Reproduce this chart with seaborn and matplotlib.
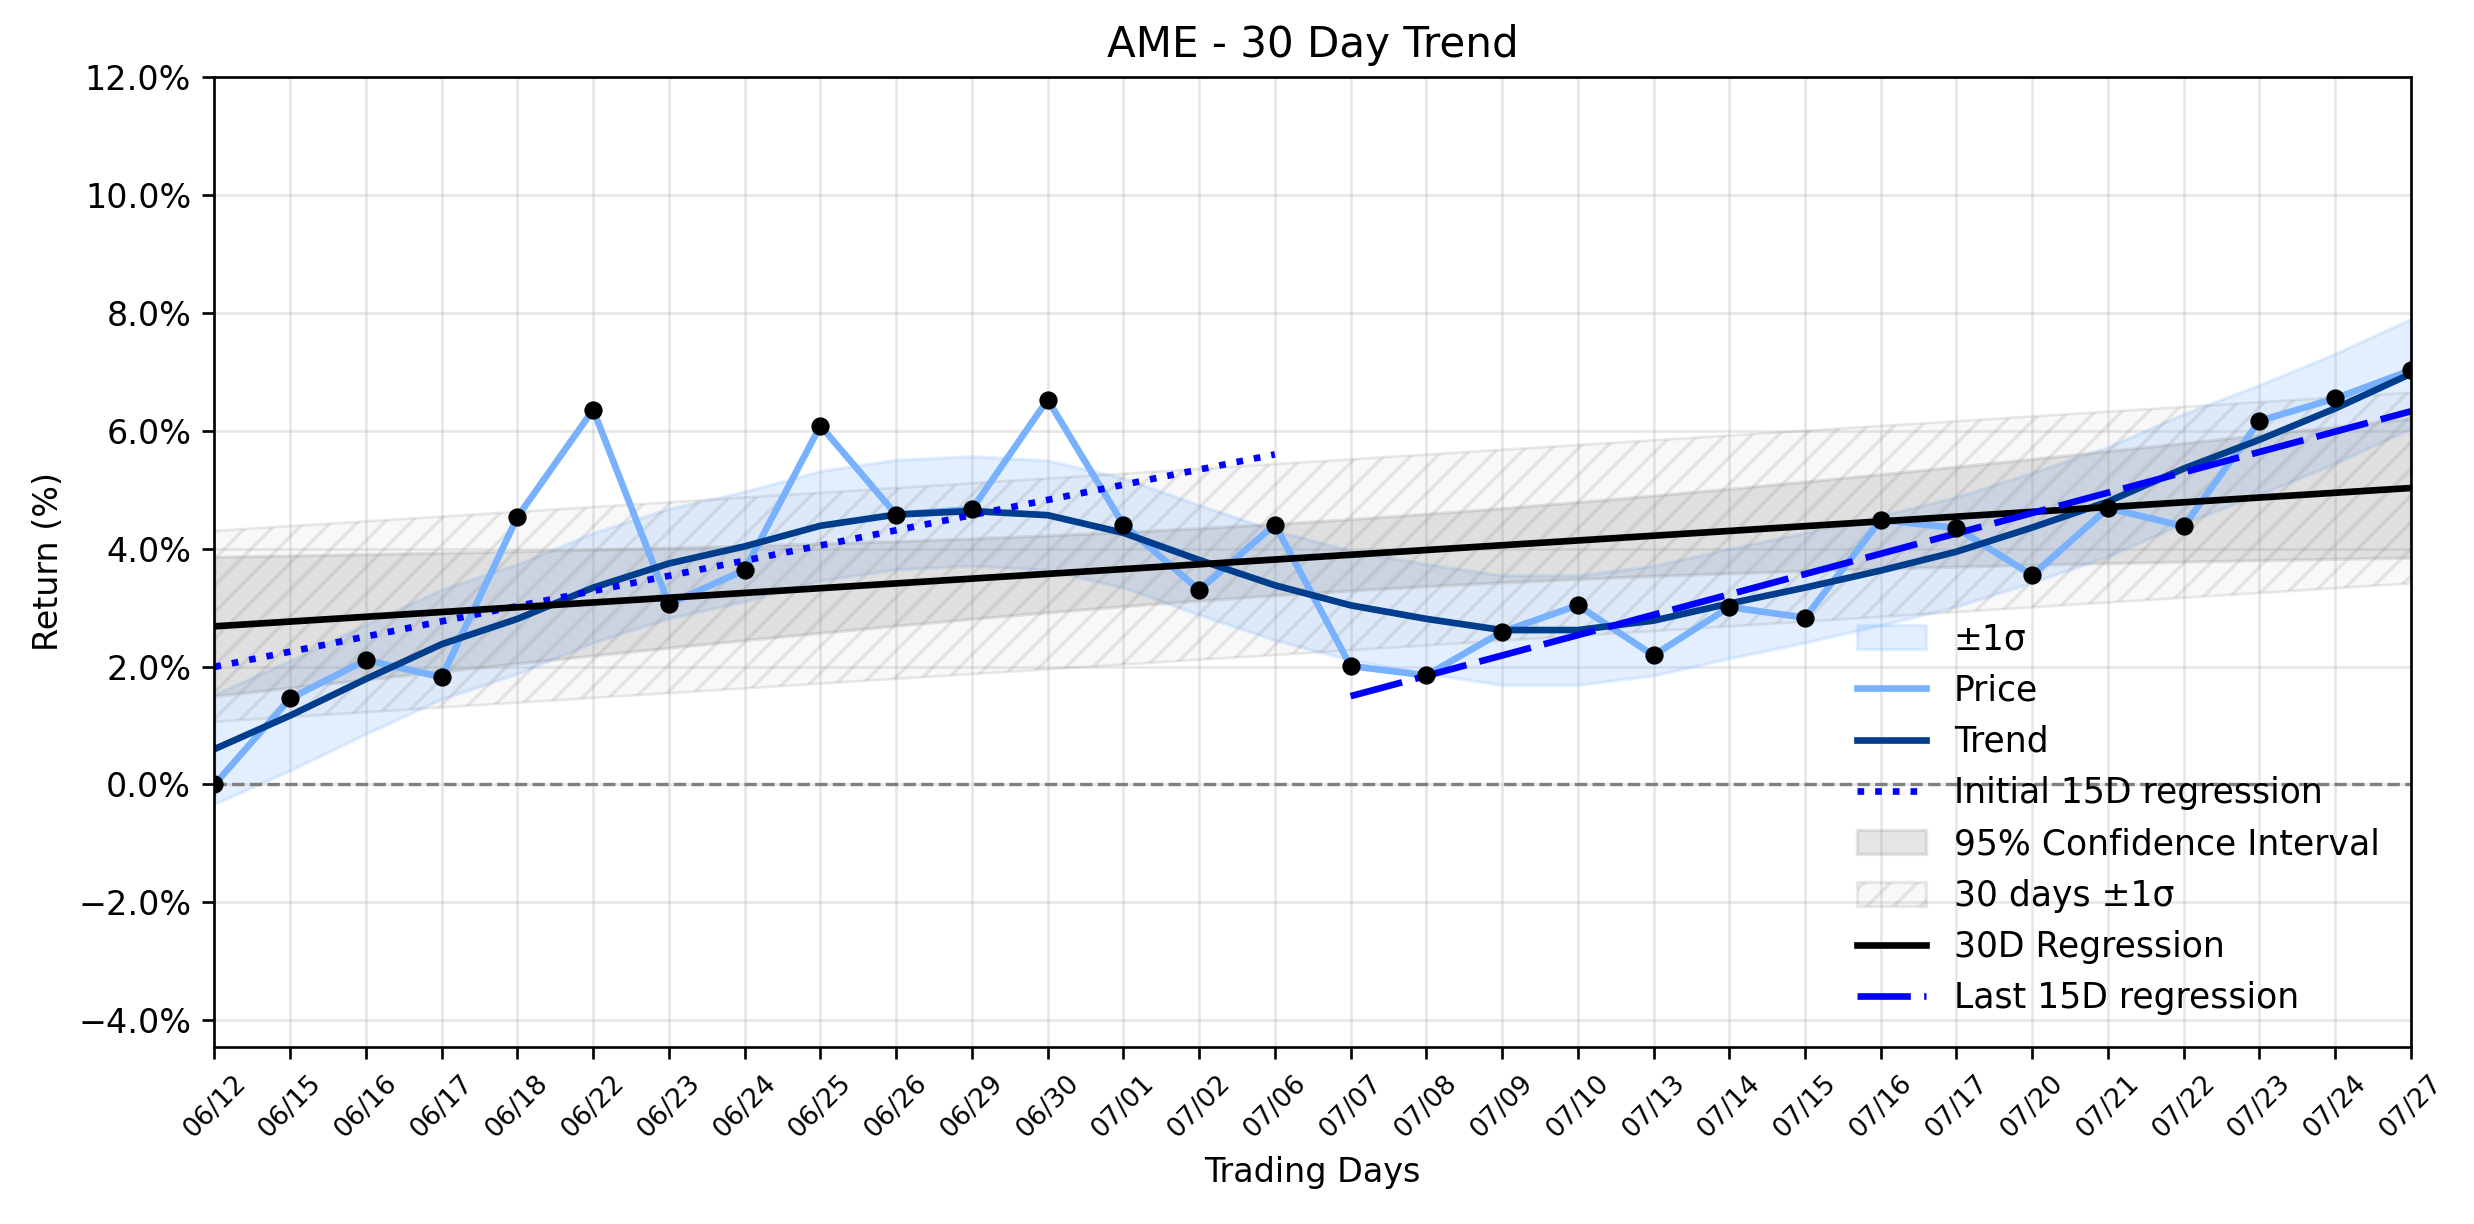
import numpy as np
import pandas as pd
import matplotlib
matplotlib.use("Agg")
import matplotlib.pyplot as plt
import seaborn as sns
from matplotlib.ticker import PercentFormatter
from matplotlib.patches import Patch
from matplotlib.lines import Line2D

# ---------------- data ----------------
dates = ["06/12", "06/15", "06/16", "06/17", "06/18", "06/22", "06/23", "06/24",
         "06/25", "06/26", "06/29", "06/30", "07/01", "07/02", "07/06", "07/07",
         "07/08", "07/09", "07/10", "07/13", "07/14", "07/15", "07/16", "07/17",
         "07/20", "07/21", "07/22", "07/23", "07/24", "07/27"]

price = [0.00, 1.46, 2.11, 1.82, 4.54, 6.36, 3.06, 3.64, 6.09, 4.58,
         4.67, 6.53, 4.41, 3.30, 4.41, 2.01, 1.85, 2.59, 3.04, 2.19,
         3.01, 2.83, 4.49, 4.35, 3.55, 4.69, 4.38, 6.17, 6.55, 7.03]

trend = [0.60, 1.17, 1.79, 2.38, 2.81, 3.34, 3.75, 4.04, 4.39, 4.58,
         4.64, 4.57, 4.27, 3.81, 3.38, 3.04, 2.81, 2.62, 2.62, 2.78,
         3.07, 3.34, 3.63, 3.95, 4.36, 4.80, 5.36, 5.85, 6.38, 6.97]

trend_sigma = 0.93          # half width of the light-blue ±1σ band
t_crit_95 = 2.048           # Student t, 0.975 quantile, 28 dof
first_window = 15
last_window = 15

y_ticks = [-4, -2, 0, 2, 4, 6, 8, 10, 12]

# ---------------- derived statistics ----------------
x = np.arange(len(dates))
p = np.array(price)
tr = np.array(trend)

slope, intercept = np.polyfit(x, p, 1)
reg = intercept + slope * x
resid = p - reg
n = len(x)
s = np.sqrt(np.sum(resid ** 2) / (n - 2))
sxx = np.sum((x - x.mean()) ** 2)
ci_hw = t_crit_95 * s * np.sqrt(1.0 / n + (x - x.mean()) ** 2 / sxx)

xi = x[:first_window]
b1, a1 = np.polyfit(xi, p[:first_window], 1)
init_reg = a1 + b1 * xi

xl = x[-last_window:]
b2, a2 = np.polyfit(xl, p[-last_window:], 1)
last_reg = a2 + b2 * xl

df = pd.DataFrame({"day": x, "price": p, "trend": tr, "reg": reg})

# ---------------- figure ----------------
DPI = 240
fig = plt.figure(figsize=(2474 / DPI, 1224 / DPI), dpi=DPI)
ax = fig.add_axes([0.0867, 0.1449, 0.8878, 0.7919])

c_price = "#78b2ff"
c_trend = "#003d8c"
c_band = "#74b2ff"
hatch_face = (0.5, 0.5, 0.5, 0.05)
hatch_edge = (0.5, 0.5, 0.5, 0.17)

ax.fill_between(x, tr - trend_sigma, tr + trend_sigma, color=c_band, alpha=0.2)
sns.lineplot(data=df, x="day", y="price", color=c_price, linewidth=2, ax=ax)
sns.lineplot(data=df, x="day", y="trend", color=c_trend, linewidth=2, ax=ax)
sns.lineplot(x=xi, y=init_reg, color="blue", linewidth=2, linestyle=":", ax=ax)
ax.fill_between(x, reg - ci_hw, reg + ci_hw, color="gray", alpha=0.2)
ax.fill_between(x, reg - s, reg + s, facecolor=hatch_face,
                edgecolor=hatch_edge, hatch="///", linewidth=0.8)
sns.lineplot(data=df, x="day", y="reg", color="black", linewidth=2, ax=ax)
sns.lineplot(x=xl, y=last_reg, color="blue", linewidth=2, linestyle=(0, (8, 2)), ax=ax)
sns.scatterplot(data=df, x="day", y="price", color="black", s=30, linewidth=0,
                zorder=5, legend=False, ax=ax)

ax.axhline(0, color="gray", linestyle="--", linewidth=1)

ax.set_xlim(0, len(dates) - 1)
ax.set_ylim(-4.45, 12)
ax.set_yticks(y_ticks)
ax.yaxis.set_major_formatter(PercentFormatter(xmax=100, decimals=1))
ax.set_xticks(x)
ax.set_xticklabels(dates, rotation=45, fontsize=8)
ax.tick_params(axis="y", labelsize=10)
ax.grid(True, alpha=0.3)
ax.set_axisbelow(True)

ax.set_title("AME - 30 Day Trend", fontsize=12.6)
ax.set_xlabel("Trading Days", fontsize=10)
ax.set_ylabel("Return (%)", fontsize=10)

handles = [
    Patch(facecolor=c_band, edgecolor=c_band, alpha=0.2),
    Line2D([], [], color=c_price, linewidth=2),
    Line2D([], [], color=c_trend, linewidth=2),
    Line2D([], [], color="blue", linewidth=2, linestyle=":"),
    Patch(facecolor="gray", edgecolor="gray", alpha=0.2),
    Patch(facecolor=hatch_face, edgecolor=hatch_edge, hatch="///"),
    Line2D([], [], color="black", linewidth=2),
    Line2D([], [], color="blue", linewidth=2, linestyle=(0, (8, 2))),
]
labels = ["±1σ", "Price", "Trend", "Initial 15D regression", "95% Confidence Interval",
          "30 days ±1σ", "30D Regression", "Last 15D regression"]
ax.legend(handles, labels, loc="lower right", frameon=False, fontsize=10.4)

fig.savefig("out.png", dpi=DPI)
